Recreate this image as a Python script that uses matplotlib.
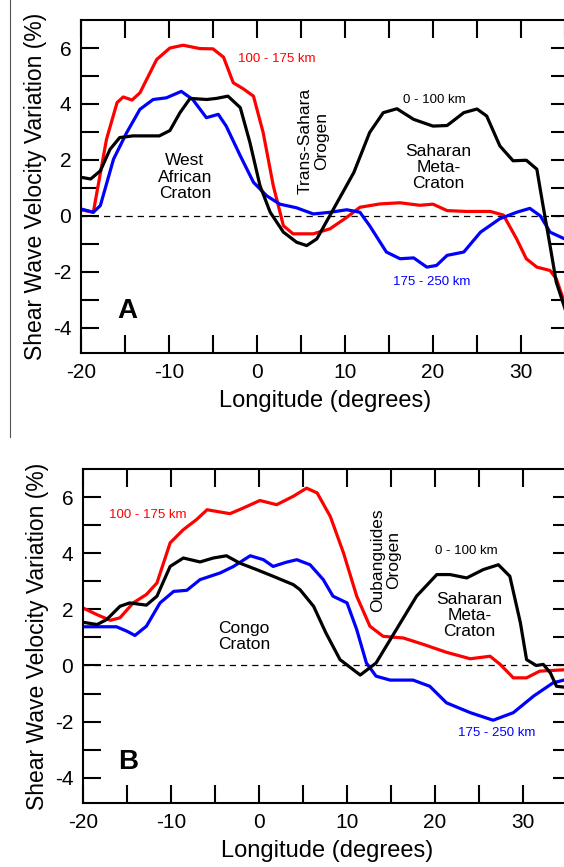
import numpy as np
import matplotlib.pyplot as plt
from matplotlib.lines import Line2D

plt.rcParams['font.family'] = ['Liberation Sans', 'DejaVu Sans']
plt.rcParams['axes.unicode_minus'] = False

# Panel A data (longitude, shear wave velocity variation %)
a_red_lon = [-20, -18.6, -17.1, -15.9, -15.2, -14.2, -13.3, -11.4, -9.9, -8.4, -6.5, -5.0, -3.8, -2.7,
             -1.55, -0.4, 0.7, 1.85, 3.0, 4.1, 6.4, 8.3, 10.2, 11.7, 14.0, 16.25, 18.5, 20.0, 21.6,
             23.8, 26.5, 28.0, 29.5, 30.6, 31.8, 33.3, 34.0, 35.5]
a_red_val = [0.22, 0.13, 2.74, 4.05, 4.25, 4.14, 4.4, 5.59, 6.0, 6.1, 5.98, 5.97, 5.67, 4.76,
             4.54, 4.28, 2.98, 1.08, -0.35, -0.64, -0.64, -0.46, -0.05, 0.31, 0.43, 0.47, 0.38, 0.42, 0.19,
             0.16, 0.16, 0.03, -0.82, -1.53, -1.83, -1.95, -2.24, -3.6]

a_blk_lon = [-20, -18.9, -17.8, -16.7, -15.6, -14.1, -11.1, -9.9, -8.75, -7.6, -5.7, -4.6, -3.3, -1.9,
             -0.8, 0.34, 1.5, 3.0, 4.5, 5.65, 6.8, 8.7, 11.0, 12.8, 14.35, 15.9, 17.8, 20.0, 21.6,
             23.5, 25.0, 26.1, 27.6, 29.1, 30.6, 31.8, 32.5, 33.3, 34.0, 35.5]
a_blk_val = [1.38, 1.32, 1.61, 2.38, 2.8, 2.86, 2.86, 3.05, 3.69, 4.2, 4.16, 4.2, 4.28, 3.87,
             2.62, 1.08, 0.13, -0.58, -0.94, -1.06, -0.82, 0.25, 1.55, 2.98, 3.69, 3.83, 3.45, 3.21, 3.23,
             3.69, 3.82, 3.57, 2.5, 1.97, 1.99, 1.67, 0.37, -1.06, -2.36, -3.8]

a_blu_lon = [-20, -18.6, -17.8, -16.3, -14.8, -13.3, -11.8, -10.3, -8.6, -7.3, -5.75, -4.4, -3.5, -1.9,
             -0.4, 1.1, 2.6, 4.5, 6.4, 8.3, 10.2, 11.7, 12.8, 14.7, 16.25, 17.8, 19.3, 20.4, 21.6,
             23.5, 25.4, 27.6, 29.5, 31.0, 32.2, 33.3, 35.5]
a_blu_val = [0.25, 0.13, 0.37, 2.03, 2.98, 3.81, 4.16, 4.22, 4.45, 4.16, 3.51, 3.63, 3.21, 2.15,
             1.2, 0.72, 0.42, 0.29, 0.07, 0.13, 0.22, 0.13, -0.35, -1.29, -1.53, -1.5, -1.83, -1.77, -1.41,
             -1.29, -0.58, -0.1, 0.13, 0.27, 0.0, -0.58, -0.9]

# Panel B data
b_red_lon = [-20, -18.4, -16.9, -15.8, -14.3, -12.8, -11.6, -10.1, -8.6, -7.1, -5.9, -4.8, -3.3, -1.8,
             0.1, 2.0, 3.9, 5.4, 6.6, 8.1, 9.6, 11.1, 12.6, 14.1, 16.4, 18.7, 21.3, 24.0, 26.25,
             27.4, 28.9, 30.4, 31.9, 35.5]
b_red_val = [2.05, 1.81, 1.61, 1.7, 2.23, 2.53, 2.94, 4.37, 4.84, 5.2, 5.55, 5.49, 5.41, 5.61,
             5.88, 5.73, 6.03, 6.32, 6.15, 5.31, 4.01, 2.47, 1.4, 1.04, 0.98, 0.75, 0.47, 0.24, 0.33,
             0.04, -0.44, -0.44, -0.2, -0.14]

b_blk_lon = [-20, -18.4, -17.3, -15.8, -14.7, -12.8, -11.6, -10.1, -8.6, -6.7, -5.2, -3.7, -2.2, -0.3,
             1.6, 3.9, 4.66, 6.2, 7.6, 9.2, 11.5, 13.3, 15.6, 17.9, 20.2, 21.7, 23.6, 25.5, 27.2,
             28.5, 29.7, 30.4, 31.5, 32.3, 33.1, 33.8, 35.5]
b_blk_val = [1.54, 1.46, 1.64, 2.11, 2.23, 2.15, 2.47, 3.53, 3.83, 3.69, 3.83, 3.91, 3.65, 3.42,
             3.18, 2.88, 2.7, 2.11, 1.16, 0.21, -0.34, 0.09, 1.28, 2.47, 3.24, 3.24, 3.12, 3.42, 3.59,
             3.18, 1.52, 0.21, 0.0, 0.04, -0.26, -0.74, -0.8]

b_blu_lon = [-20, -16.2, -15.0, -14.1, -12.8, -11.25, -9.7, -8.2, -6.7, -4.4, -2.9, -1.0, 0.5, 1.6,
             3.1, 4.3, 5.8, 7.3, 8.4, 10.0, 11.1, 12.2, 13.3, 14.9, 17.5, 19.4, 21.3, 24.0, 26.6,
             28.9, 31.2, 33.4, 35.5]
b_blu_val = [1.38, 1.38, 1.22, 1.07, 1.4, 2.23, 2.64, 2.68, 3.06, 3.3, 3.53, 3.91, 3.77, 3.53,
             3.68, 3.77, 3.59, 3.06, 2.47, 2.23, 1.28, 0.09, -0.38, -0.52, -0.52, -0.74, -1.33, -1.68, -1.95,
             -1.68, -1.09, -0.62, -0.45]

x_ticks = [-20, -10, 0, 10, 20, 30]
y_ticks = [-4, -2, 0, 2, 4, 6]

fig = plt.figure(figsize=(5.64, 8.67), dpi=100)
axA = fig.add_axes([0.1436, 0.5928, 0.866, 0.3841])
axB = fig.add_axes([0.1472, 0.0738, 0.866, 0.3852])

def setup(ax):
    ax.set_xlim(-20, 35.5)
    ax.set_ylim(-4.9, 7)
    ax.set_xticks(x_ticks)
    ax.set_xticks(np.arange(-15, 36, 5), minor=True)
    ax.set_yticks(y_ticks)
    ax.set_yticks(np.arange(-4, 7, 1), minor=True)
    ax.tick_params(which='both', direction='in', length=13, width=1.5,
                   top=True, right=True, labelsize=15, pad=7)
    for s in ax.spines.values():
        s.set_linewidth(1.5)
    ax.axhline(0, color='black', lw=0.9, ls=(0, (5, 4)), zorder=1)
    ax.set_xlabel('Longitude (degrees)', fontsize=17, labelpad=6)
    ax.set_ylabel('Shear Wave Velocity Variation (%)', fontsize=16.5, labelpad=4)

for ax in (axA, axB):
    setup(ax)

lw = 2.3
axA.plot(a_red_lon, a_red_val, color='#ff0000', lw=lw, solid_joinstyle='round')
axA.plot(a_blu_lon, a_blu_val, color='#0000ff', lw=lw, solid_joinstyle='round')
axA.plot(a_blk_lon, a_blk_val, color='black', lw=lw, solid_joinstyle='round')

axB.plot(b_red_lon, b_red_val, color='#ff0000', lw=lw, solid_joinstyle='round')
axB.plot(b_blu_lon, b_blu_val, color='#0000ff', lw=lw, solid_joinstyle='round')
axB.plot(b_blk_lon, b_blk_val, color='black', lw=lw, solid_joinstyle='round')

# panel A labels
axA.text(2.2, 5.6, '100 - 175 km', color='#ff0000', fontsize=9.5, ha='center', va='center')
axA.text(20.2, 4.16, '0 - 100 km', color='black', fontsize=9.5, ha='center', va='center')
axA.text(19.9, -2.35, '175 - 250 km', color='#0000ff', fontsize=9.5, ha='center', va='center')
axA.text(-8.2, 1.39, 'West\nAfrican\nCraton', fontsize=12.5, ha='center', va='center', linespacing=1.1)
axA.text(6.4, 2.67, 'Trans-Sahara\nOrogen', fontsize=12.5, ha='center', va='center',
         rotation=90, linespacing=1.1)
axA.text(20.6, 1.74, 'Saharan\nMeta-\nCraton', fontsize=12.5, ha='center', va='center', linespacing=1.1)
axA.text(-14.7, -3.38, 'A', fontsize=20, fontweight='bold', ha='center', va='center')

# panel B labels
axB.text(-12.6, 5.37, '100 - 175 km', color='#ff0000', fontsize=9.5, ha='center', va='center')
axB.text(23.6, 4.07, '0 - 100 km', color='black', fontsize=9.5, ha='center', va='center')
axB.text(27.0, -2.42, '175 - 250 km', color='#0000ff', fontsize=9.5, ha='center', va='center')
axB.text(-1.7, 1.03, 'Congo\nCraton', fontsize=12.5, ha='center', va='center', linespacing=1.1)
axB.text(14.4, 3.77, 'Oubanguides\nOrogen', fontsize=12.5, ha='center', va='center',
         rotation=90, linespacing=1.1)
axB.text(23.9, 1.78, 'Saharan\nMeta-\nCraton', fontsize=12.5, ha='center', va='center', linespacing=1.1)
axB.text(-14.9, -3.45, 'B', fontsize=20, fontweight='bold', ha='center', va='center')

# thin frame edge at the left of the upper panel
fig.add_artist(Line2D([0.0177, 0.0177], [1.0, 0.496], color='#555555', lw=0.8))

fig.savefig('out.png', dpi=100)
